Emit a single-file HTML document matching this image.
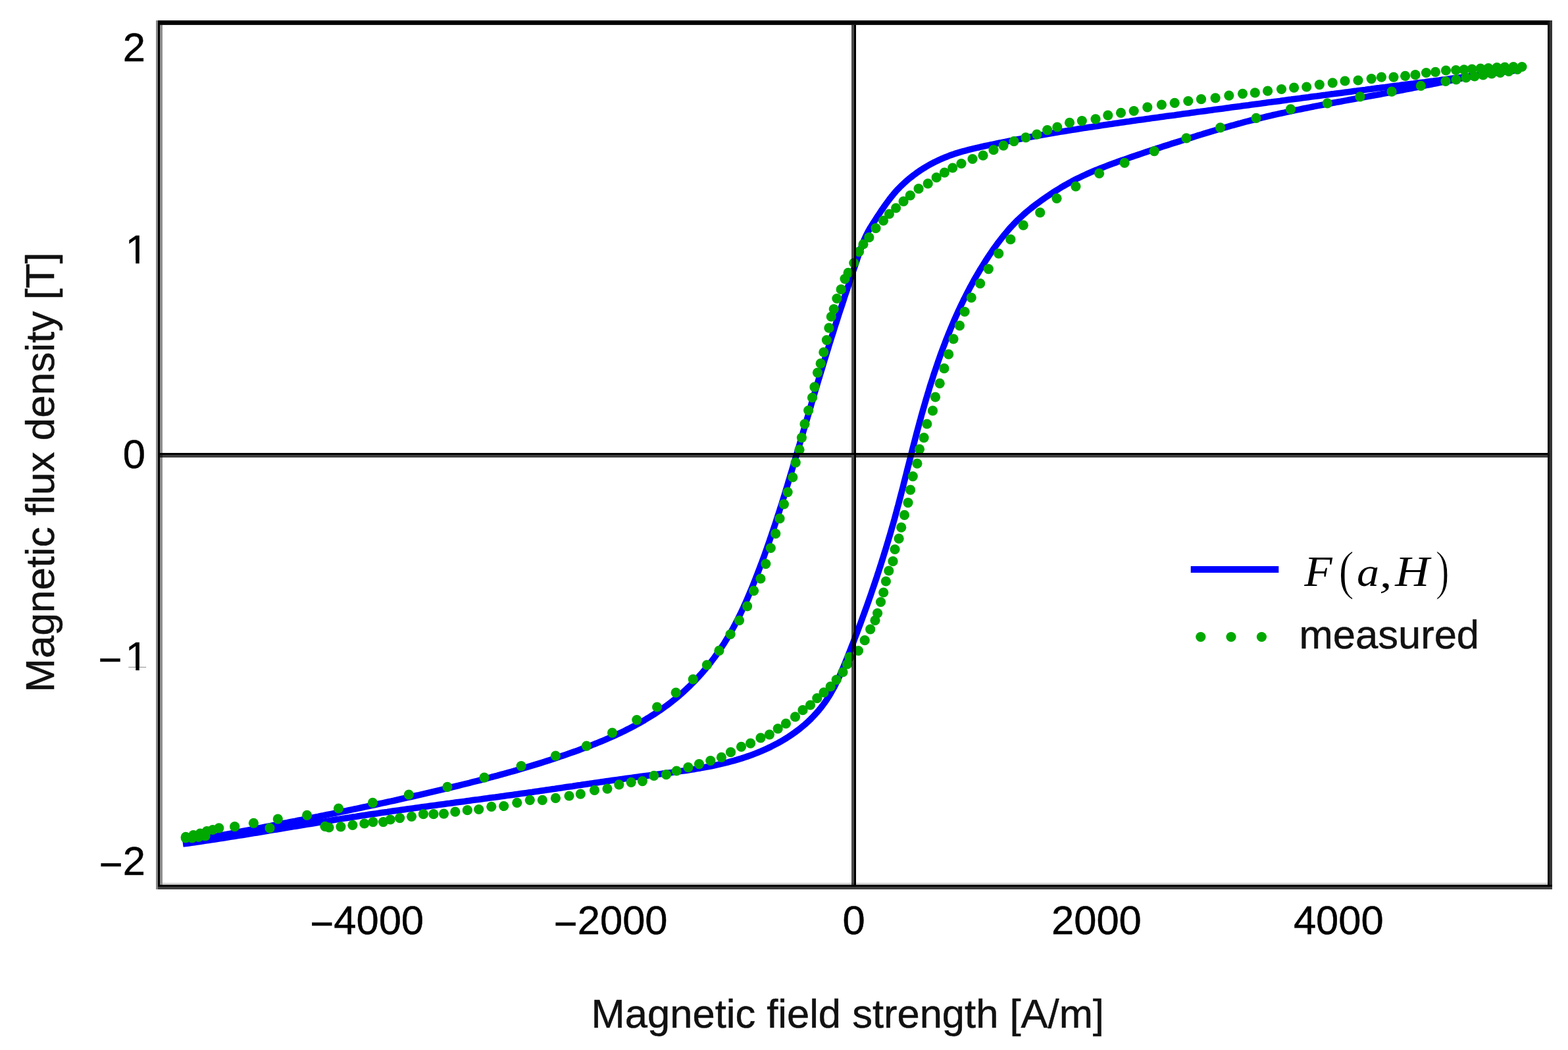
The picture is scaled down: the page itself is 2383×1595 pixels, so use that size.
<!DOCTYPE html><html><head><meta charset="utf-8"><title>Hysteresis</title><style>html,body{margin:0;padding:0;background:#fff;}svg{display:block;}</style></head><body>
<svg xmlns="http://www.w3.org/2000/svg" width="2383" height="1595" viewBox="0 0 2383 1595">
<rect x="0" y="0" width="2383" height="1595" fill="#ffffff"/>
<g fill="none" stroke="#0000ff" stroke-width="9.6" stroke-linejoin="round" stroke-linecap="butt">
<path d="M2308.1,106.3 L2303.8,106.8 L2299.5,107.4 L2295.2,108.0 L2290.8,108.5 L2286.5,109.1 L2282.2,109.6 L2277.8,110.2 L2273.5,110.7 L2269.2,111.3 L2264.9,111.8 L2260.5,112.4 L2256.2,113.0 L2251.9,113.5 L2247.6,114.1 L2243.2,114.6 L2238.9,115.2 L2234.6,115.7 L2230.3,116.3 L2225.9,116.9 L2221.6,117.4 L2217.3,118.0 L2213.0,118.5 L2208.6,119.1 L2204.3,119.6 L2200.0,120.2 L2195.7,120.8 L2191.3,121.3 L2187.0,121.9 L2182.7,122.4 L2178.4,123.0 L2174.0,123.5 L2169.7,124.1 L2165.4,124.7 L2161.1,125.2 L2156.7,125.8 L2152.4,126.3 L2148.1,126.9 L2143.8,127.4 L2139.4,128.0 L2135.1,128.6 L2130.8,129.1 L2126.5,129.7 L2122.2,130.2 L2117.8,130.8 L2113.5,131.3 L2109.2,131.9 L2104.9,132.5 L2100.5,133.0 L2096.2,133.6 L2091.9,134.1 L2087.6,134.7 L2083.3,135.3 L2078.9,135.8 L2074.6,136.4 L2070.3,136.9 L2066.0,137.5 L2061.7,138.1 L2057.3,138.6 L2053.0,139.2 L2048.7,139.8 L2044.4,140.3 L2040.0,140.9 L2035.7,141.4 L2031.4,142.0 L2027.1,142.6 L2022.8,143.1 L2018.4,143.7 L2014.1,144.3 L2009.8,144.8 L2005.5,145.4 L2001.2,146.0 L1996.8,146.5 L1992.5,147.1 L1988.2,147.7 L1983.9,148.2 L1979.6,148.8 L1975.2,149.4 L1970.9,149.9 L1966.6,150.5 L1962.3,151.1 L1957.9,151.6 L1953.6,152.2 L1949.3,152.8 L1945.0,153.4 L1940.7,153.9 L1936.3,154.5 L1932.0,155.1 L1927.7,155.6 L1923.4,156.2 L1919.1,156.8 L1914.7,157.4 L1910.4,157.9 L1906.1,158.5 L1901.8,159.1 L1897.5,159.7 L1893.1,160.2 L1888.8,160.8 L1884.5,161.4 L1880.2,162.0 L1875.8,162.6 L1871.5,163.1 L1867.2,163.7 L1862.9,164.3 L1858.6,164.9 L1854.2,165.5 L1849.9,166.0 L1845.6,166.6 L1841.3,167.2 L1837.0,167.8 L1832.6,168.4 L1828.3,169.0 L1824.0,169.6 L1819.7,170.1 L1815.3,170.7 L1811.0,171.3 L1806.7,171.9 L1802.4,172.5 L1798.0,173.1 L1793.7,173.7 L1789.4,174.3 L1785.1,174.9 L1780.8,175.4 L1776.4,176.0 L1772.1,176.6 L1767.8,177.2 L1763.5,177.8 L1759.1,178.4 L1754.8,179.0 L1750.5,179.6 L1746.2,180.2 L1741.8,180.8 L1737.5,181.4 L1733.2,182.0 L1728.9,182.6 L1724.5,183.2 L1720.2,183.8 L1715.9,184.5 L1711.6,185.1 L1707.3,185.7 L1702.9,186.3 L1698.6,186.9 L1694.3,187.5 L1690.0,188.2 L1685.7,188.8 L1681.3,189.4 L1677.0,190.1 L1672.7,190.7 L1668.4,191.4 L1664.1,192.0 L1659.8,192.7 L1655.4,193.3 L1651.1,194.0 L1646.8,194.6 L1642.5,195.3 L1638.2,196.0 L1633.9,196.7 L1629.6,197.3 L1625.3,198.0 L1621.0,198.7 L1616.7,199.4 L1612.4,200.1 L1608.1,200.8 L1603.8,201.6 L1599.5,202.3 L1595.2,203.0 L1590.9,203.7 L1586.6,204.5 L1582.3,205.2 L1578.0,206.0 L1573.7,206.7 L1569.4,207.5 L1565.2,208.3 L1560.9,209.1 L1556.6,209.9 L1552.3,210.7 L1548.1,211.5 L1543.8,212.3 L1539.5,213.1 L1535.2,213.9 L1531.0,214.8 L1526.7,215.6 L1522.5,216.5 L1518.2,217.3 L1513.9,218.2 L1509.7,219.1 L1505.4,220.0 L1501.2,220.9 L1496.9,221.8 L1492.7,222.7 L1488.5,223.7 L1484.2,224.6 L1480.0,225.6 L1475.8,226.6 L1471.6,227.7 L1467.4,228.8 L1463.2,229.9 L1459.0,231.1 L1454.9,232.4 L1450.7,233.7 L1446.6,235.1 L1442.5,236.6 L1438.5,238.2 L1434.4,239.8 L1430.4,241.5 L1426.4,243.4 L1422.5,245.3 L1418.5,247.2 L1414.6,249.3 L1410.8,251.4 L1407.0,253.6 L1403.3,255.9 L1399.5,258.3 L1395.9,260.8 L1392.3,263.3 L1388.8,265.9 L1385.3,268.6 L1381.9,271.3 L1378.5,274.1 L1375.3,277.0 L1372.1,280.0 L1368.9,283.0 L1365.9,286.1 L1362.9,289.2 L1360.0,292.5 L1357.2,295.8 L1354.5,299.1 L1351.9,302.5 L1349.3,306.0 L1346.7,309.5 L1344.2,313.0 L1341.8,316.6 L1339.3,320.1 L1336.9,323.8 L1334.5,327.4 L1332.1,331.0 L1329.8,334.7 L1327.4,338.3 L1325.1,342.0 L1322.8,345.7 L1320.6,349.5 L1318.5,353.3 L1316.6,357.1 L1314.8,361.0 L1313.0,365.0 L1311.4,369.0 L1309.8,373.1 L1308.4,377.2 L1306.9,381.3 L1305.5,385.4 L1304.1,389.5 L1302.7,393.6 L1301.4,397.8 L1300.0,401.9 L1298.6,406.1 L1297.2,410.2 L1295.8,414.3 L1294.5,418.5 L1293.1,422.6 L1291.7,426.7 L1290.3,430.9 L1288.9,435.0 L1287.6,439.2 L1286.2,443.3 L1284.8,447.4 L1283.4,451.6 L1282.1,455.7 L1280.7,459.9 L1279.4,464.0 L1278.0,468.1 L1276.6,472.3 L1275.3,476.4 L1273.9,480.6 L1272.6,484.7 L1271.3,488.9 L1269.9,493.0 L1268.6,497.2 L1267.3,501.3 L1266.0,505.5 L1264.6,509.7 L1263.3,513.8 L1262.0,518.0 L1260.7,522.1 L1259.4,526.3 L1258.2,530.5 L1256.9,534.6 L1255.6,538.8 L1254.3,543.0 L1253.0,547.1 L1251.8,551.3 L1250.5,555.5 L1249.3,559.6 L1248.0,563.8 L1246.7,568.0 L1245.5,572.2 L1244.2,576.3 L1243.0,580.5 L1241.7,584.7 L1240.5,588.9 L1239.3,593.0 L1238.0,597.2 L1236.8,601.4 L1235.6,605.6 L1234.3,609.7 L1233.1,613.9 L1231.9,618.1 L1230.6,622.3 L1229.4,626.5 L1228.2,630.7 L1227.0,634.8 L1225.7,639.0 L1224.5,643.2 L1223.3,647.4 L1222.0,651.6 L1220.8,655.7 L1219.6,659.9 L1218.4,664.1 L1217.1,668.3 L1215.9,672.5 L1214.7,676.7 L1213.5,680.8 L1212.2,685.0 L1211.0,689.2 L1209.8,693.4 L1208.5,697.6 L1207.3,701.7 L1206.0,705.9 L1204.8,710.1 L1203.5,714.3 L1202.3,718.4 L1201.0,722.6 L1199.8,726.8 L1198.5,731.0 L1197.3,735.1 L1196.0,739.3 L1194.7,743.5 L1193.4,747.7 L1192.2,751.8 L1190.9,756.0 L1189.6,760.1 L1188.3,764.3 L1187.0,768.5 L1185.6,772.6 L1184.3,776.8 L1183.0,780.9 L1181.6,785.1 L1180.3,789.2 L1178.9,793.4 L1177.6,797.5 L1176.2,801.6 L1174.8,805.8 L1173.4,809.9 L1172.0,814.0 L1170.6,818.1 L1169.2,822.3 L1167.8,826.4 L1166.3,830.5 L1164.9,834.6 L1163.4,838.7 L1162.0,842.8 L1160.5,846.9 L1159.0,851.0 L1157.5,855.1 L1155.9,859.1 L1154.4,863.2 L1152.8,867.3 L1151.3,871.4 L1149.7,875.4 L1148.1,879.5 L1146.5,883.5 L1144.9,887.6 L1143.3,891.6 L1141.6,895.6 L1139.9,899.7 L1138.2,903.7 L1136.5,907.7 L1134.8,911.7 L1133.0,915.7 L1131.2,919.6 L1129.4,923.6 L1127.6,927.5 L1125.7,931.5 L1123.8,935.4 L1121.9,939.3 L1119.9,943.2 L1117.9,947.0 L1115.9,950.9 L1113.8,954.7 L1111.7,958.5 L1109.5,962.3 L1107.3,966.1 L1105.1,969.8 L1102.8,973.6 L1100.5,977.3 L1098.1,980.9 L1095.7,984.6 L1093.3,988.2 L1090.8,991.8 L1088.2,995.4 L1085.7,998.9 L1083.0,1002.4 L1080.4,1005.9 L1077.7,1009.3 L1074.9,1012.7 L1072.1,1016.1 L1069.3,1019.5 L1066.4,1022.8 L1063.5,1026.0 L1060.6,1029.3 L1057.6,1032.5 L1054.6,1035.6 L1051.5,1038.7 L1048.4,1041.8 L1045.3,1044.8 L1042.1,1047.8 L1038.9,1050.8 L1035.7,1053.7 L1032.4,1056.5 L1029.1,1059.3 L1025.7,1062.1 L1022.3,1064.8 L1018.9,1067.5 L1015.5,1070.1 L1012.0,1072.7 L1008.5,1075.2 L1004.9,1077.7 L1001.4,1080.1 L997.8,1082.5 L994.2,1084.9 L990.5,1087.2 L986.8,1089.5 L983.1,1091.7 L979.4,1094.0 L975.7,1096.1 L971.9,1098.3 L968.1,1100.4 L964.3,1102.4 L960.4,1104.5 L956.6,1106.5 L952.7,1108.4 L948.8,1110.4 L944.9,1112.3 L940.9,1114.1 L937.0,1116.0 L933.0,1117.8 L929.0,1119.6 L925.0,1121.3 L921.0,1123.1 L917.0,1124.8 L912.9,1126.5 L908.9,1128.1 L904.8,1129.8 L900.7,1131.4 L896.7,1133.0 L892.6,1134.6 L888.5,1136.1 L884.4,1137.6 L880.2,1139.2 L876.1,1140.7 L872.0,1142.1 L867.9,1143.6 L863.7,1145.1 L859.6,1146.5 L855.5,1147.9 L851.3,1149.3 L847.2,1150.7 L843.0,1152.1 L838.9,1153.5 L834.7,1154.8 L830.6,1156.1 L826.4,1157.5 L822.2,1158.8 L818.1,1160.1 L813.9,1161.4 L809.7,1162.7 L805.6,1163.9 L801.4,1165.2 L797.2,1166.4 L793.0,1167.6 L788.8,1168.9 L784.7,1170.1 L780.5,1171.3 L776.3,1172.5 L772.1,1173.7 L767.9,1174.8 L763.7,1176.0 L759.5,1177.1 L755.3,1178.3 L751.1,1179.4 L746.9,1180.5 L742.7,1181.7 L738.5,1182.8 L734.3,1183.9 L730.1,1185.0 L725.8,1186.1 L721.6,1187.1 L717.4,1188.2 L713.2,1189.3 L709.0,1190.3 L704.7,1191.4 L700.5,1192.4 L696.3,1193.5 L692.1,1194.5 L687.8,1195.5 L683.6,1196.6 L679.4,1197.6 L675.1,1198.6 L670.9,1199.6 L666.7,1200.6 L662.4,1201.6 L658.2,1202.6 L653.9,1203.6 L649.7,1204.6 L645.5,1205.6 L641.2,1206.6 L637.0,1207.6 L632.7,1208.5 L628.5,1209.5 L624.2,1210.5 L620.0,1211.4 L615.7,1212.4 L611.5,1213.3 L607.2,1214.3 L603.0,1215.2 L598.7,1216.2 L594.4,1217.1 L590.2,1218.0 L585.9,1219.0 L581.7,1219.9 L577.4,1220.8 L573.1,1221.8 L568.9,1222.7 L564.6,1223.6 L560.3,1224.5 L556.1,1225.4 L551.8,1226.3 L547.5,1227.2 L543.3,1228.1 L539.0,1229.0 L534.7,1229.9 L530.5,1230.8 L526.2,1231.7 L521.9,1232.5 L517.7,1233.4 L513.4,1234.3 L509.1,1235.2 L504.8,1236.1 L500.6,1236.9 L496.3,1237.8 L492.0,1238.7 L487.7,1239.5 L483.5,1240.4 L479.2,1241.2 L474.9,1242.1 L470.6,1242.9 L466.3,1243.8 L462.1,1244.6 L457.8,1245.5 L453.5,1246.3 L449.2,1247.2 L444.9,1248.0 L440.7,1248.8 L436.4,1249.7 L432.1,1250.5 L427.8,1251.3 L423.5,1252.2 L419.3,1253.0 L415.0,1253.8 L410.7,1254.7 L406.4,1255.5 L402.1,1256.3 L397.8,1257.1 L393.6,1257.9 L389.3,1258.8 L385.0,1259.6 L380.7,1260.4 L376.4,1261.2 L372.1,1262.0 L367.9,1262.8 L363.6,1263.7 L359.3,1264.5 L355.0,1265.3 L350.7,1266.1 L346.5,1266.9 L342.2,1267.7 L337.9,1268.5 L333.6,1269.3 L329.3,1270.1 L325.1,1270.9 L320.8,1271.7 L316.5,1272.5 L312.2,1273.3 L307.9,1274.1 L303.7,1274.9 L299.4,1275.7 L295.1,1276.5 L290.8,1277.3 L286.6,1278.1 L282.3,1278.9 L278.0,1279.7"/>
<path d="M278.0,1282.1 L282.3,1281.5 L286.7,1280.9 L291.0,1280.3 L295.3,1279.7 L299.6,1279.0 L304.0,1278.4 L308.3,1277.8 L312.6,1277.1 L316.9,1276.5 L321.2,1275.8 L325.5,1275.2 L329.9,1274.5 L334.2,1273.8 L338.5,1273.2 L342.8,1272.5 L347.1,1271.8 L351.4,1271.1 L355.7,1270.4 L360.0,1269.8 L364.4,1269.1 L368.7,1268.4 L373.0,1267.7 L377.3,1267.0 L381.6,1266.3 L385.9,1265.6 L390.2,1264.9 L394.5,1264.2 L398.8,1263.5 L403.1,1262.8 L407.4,1262.0 L411.7,1261.3 L416.0,1260.6 L420.3,1259.9 L424.6,1259.2 L428.9,1258.5 L433.2,1257.8 L437.5,1257.1 L441.9,1256.3 L446.2,1255.6 L450.5,1254.9 L454.8,1254.2 L459.1,1253.5 L463.4,1252.8 L467.7,1252.1 L472.0,1251.4 L476.3,1250.7 L480.6,1250.0 L484.9,1249.3 L489.2,1248.6 L493.5,1247.9 L497.8,1247.2 L502.1,1246.5 L506.4,1245.8 L510.7,1245.1 L515.1,1244.4 L519.4,1243.7 L523.7,1243.1 L528.0,1242.4 L532.3,1241.7 L536.6,1241.0 L540.9,1240.4 L545.2,1239.7 L549.5,1239.1 L553.9,1238.4 L558.2,1237.8 L562.5,1237.1 L566.8,1236.5 L571.1,1235.9 L575.5,1235.2 L579.8,1234.6 L584.1,1234.0 L588.4,1233.4 L592.7,1232.7 L597.1,1232.1 L601.4,1231.5 L605.7,1230.9 L610.0,1230.3 L614.4,1229.7 L618.7,1229.1 L623.0,1228.5 L627.3,1227.9 L631.7,1227.3 L636.0,1226.7 L640.3,1226.1 L644.6,1225.5 L649.0,1224.9 L653.3,1224.3 L657.6,1223.8 L662.0,1223.2 L666.3,1222.6 L670.6,1222.0 L674.9,1221.4 L679.3,1220.8 L683.6,1220.3 L687.9,1219.7 L692.2,1219.1 L696.6,1218.5 L700.9,1217.9 L705.2,1217.4 L709.6,1216.8 L713.9,1216.2 L718.2,1215.6 L722.5,1215.0 L726.9,1214.5 L731.2,1213.9 L735.5,1213.3 L739.8,1212.7 L744.2,1212.1 L748.5,1211.5 L752.8,1211.0 L757.1,1210.4 L761.5,1209.8 L765.8,1209.2 L770.1,1208.6 L774.4,1208.0 L778.8,1207.4 L783.1,1206.8 L787.4,1206.2 L791.7,1205.6 L796.0,1205.0 L800.4,1204.4 L804.7,1203.8 L809.0,1203.2 L813.3,1202.5 L817.6,1201.9 L821.9,1201.3 L826.2,1200.7 L830.6,1200.0 L834.9,1199.4 L839.2,1198.8 L843.5,1198.2 L847.8,1197.5 L852.1,1196.9 L856.4,1196.3 L860.8,1195.6 L865.1,1195.0 L869.4,1194.4 L873.7,1193.7 L878.0,1193.1 L882.3,1192.5 L886.6,1191.8 L890.9,1191.2 L895.3,1190.6 L899.6,1189.9 L903.9,1189.3 L908.2,1188.7 L912.5,1188.1 L916.8,1187.4 L921.2,1186.8 L925.5,1186.2 L929.8,1185.6 L934.1,1185.0 L938.4,1184.4 L942.8,1183.8 L947.1,1183.2 L951.4,1182.6 L955.8,1182.0 L960.1,1181.4 L964.4,1180.8 L968.8,1180.2 L973.1,1179.6 L977.4,1179.1 L981.8,1178.5 L986.1,1177.9 L990.5,1177.4 L994.8,1176.8 L999.1,1176.3 L1003.5,1175.7 L1007.8,1175.1 L1012.2,1174.6 L1016.5,1174.0 L1020.9,1173.4 L1025.2,1172.8 L1029.5,1172.2 L1033.9,1171.6 L1038.2,1171.0 L1042.5,1170.4 L1046.8,1169.7 L1051.2,1169.0 L1055.5,1168.4 L1059.8,1167.6 L1064.1,1166.9 L1068.4,1166.1 L1072.6,1165.3 L1076.9,1164.5 L1081.2,1163.7 L1085.5,1162.8 L1089.7,1161.9 L1093.9,1160.9 L1098.2,1159.9 L1102.4,1158.9 L1106.6,1157.8 L1110.8,1156.7 L1115.0,1155.6 L1119.2,1154.4 L1123.3,1153.1 L1127.5,1151.9 L1131.6,1150.5 L1135.7,1149.1 L1139.8,1147.7 L1143.9,1146.2 L1148.0,1144.6 L1152.1,1143.0 L1156.1,1141.4 L1160.1,1139.6 L1164.1,1137.8 L1168.1,1136.0 L1172.1,1134.1 L1176.0,1132.1 L1179.9,1130.1 L1183.7,1128.0 L1187.5,1125.8 L1191.3,1123.6 L1195.0,1121.3 L1198.7,1119.0 L1202.4,1116.5 L1206.0,1114.0 L1209.5,1111.5 L1213.0,1108.9 L1216.5,1106.2 L1219.8,1103.4 L1223.2,1100.6 L1226.4,1097.7 L1229.6,1094.7 L1232.7,1091.7 L1235.8,1088.5 L1238.7,1085.4 L1241.6,1082.1 L1244.5,1078.8 L1247.2,1075.4 L1249.9,1072.0 L1252.5,1068.5 L1255.0,1064.9 L1257.4,1061.3 L1259.8,1057.7 L1262.0,1054.0 L1264.2,1050.2 L1266.3,1046.4 L1268.4,1042.6 L1270.3,1038.7 L1272.2,1034.9 L1274.1,1030.9 L1275.9,1027.0 L1277.7,1023.0 L1279.4,1019.0 L1281.1,1015.0 L1282.8,1011.0 L1284.4,1006.9 L1286.1,1002.9 L1287.7,998.8 L1289.3,994.8 L1290.9,990.7 L1292.5,986.7 L1294.1,982.6 L1295.7,978.6 L1297.3,974.5 L1298.8,970.4 L1300.4,966.3 L1302.0,962.3 L1303.5,958.2 L1305.0,954.1 L1306.6,950.0 L1308.1,945.9 L1309.6,941.8 L1311.1,937.7 L1312.6,933.6 L1314.1,929.5 L1315.6,925.4 L1317.1,921.3 L1318.5,917.2 L1320.0,913.1 L1321.4,909.0 L1322.9,904.9 L1324.3,900.8 L1325.7,896.6 L1327.1,892.5 L1328.5,888.4 L1329.9,884.2 L1331.3,880.1 L1332.7,875.9 L1334.0,871.8 L1335.4,867.7 L1336.7,863.5 L1338.1,859.4 L1339.4,855.2 L1340.7,851.0 L1342.0,846.9 L1343.3,842.7 L1344.6,838.5 L1345.9,834.4 L1347.2,830.2 L1348.4,826.0 L1349.7,821.8 L1350.9,817.6 L1352.2,813.5 L1353.4,809.3 L1354.6,805.1 L1355.8,800.9 L1357.0,796.7 L1358.2,792.5 L1359.4,788.3 L1360.5,784.1 L1361.7,779.9 L1362.8,775.6 L1363.9,771.4 L1365.1,767.2 L1366.2,763.0 L1367.3,758.8 L1368.4,754.5 L1369.5,750.3 L1370.6,746.1 L1371.7,741.9 L1372.8,737.6 L1373.8,733.4 L1374.9,729.2 L1376.0,724.9 L1377.1,720.7 L1378.1,716.5 L1379.2,712.2 L1380.3,708.0 L1381.4,703.8 L1382.4,699.5 L1383.5,695.3 L1384.6,691.1 L1385.7,686.8 L1386.7,682.6 L1387.8,678.4 L1388.9,674.2 L1390.0,669.9 L1391.1,665.7 L1392.2,661.5 L1393.3,657.3 L1394.4,653.1 L1395.6,648.8 L1396.7,644.6 L1397.8,640.4 L1399.0,636.2 L1400.1,632.0 L1401.3,627.8 L1402.5,623.6 L1403.7,619.4 L1404.9,615.2 L1406.1,611.1 L1407.3,606.9 L1408.6,602.7 L1409.8,598.5 L1411.1,594.4 L1412.3,590.2 L1413.6,586.0 L1414.9,581.9 L1416.3,577.7 L1417.6,573.6 L1418.9,569.4 L1420.3,565.3 L1421.7,561.2 L1423.1,557.1 L1424.5,552.9 L1425.9,548.8 L1427.4,544.7 L1428.8,540.6 L1430.3,536.5 L1431.8,532.4 L1433.3,528.3 L1434.9,524.3 L1436.4,520.2 L1438.0,516.1 L1439.6,512.1 L1441.2,508.0 L1442.9,504.0 L1444.5,499.9 L1446.2,495.9 L1447.9,491.9 L1449.6,487.8 L1451.4,483.8 L1453.2,479.8 L1455.0,475.8 L1456.8,471.8 L1458.6,467.9 L1460.5,463.9 L1462.4,460.0 L1464.3,456.0 L1466.3,452.1 L1468.3,448.2 L1470.3,444.3 L1472.3,440.4 L1474.3,436.6 L1476.4,432.7 L1478.5,428.9 L1480.6,425.0 L1482.8,421.2 L1485.0,417.4 L1487.2,413.7 L1489.4,409.9 L1491.7,406.2 L1494.0,402.5 L1496.3,398.8 L1498.6,395.1 L1501.0,391.5 L1503.4,387.8 L1505.9,384.2 L1508.3,380.6 L1510.8,377.1 L1513.4,373.5 L1515.9,370.0 L1518.5,366.6 L1521.2,363.1 L1523.9,359.7 L1526.6,356.3 L1529.4,353.0 L1532.2,349.7 L1535.0,346.4 L1538.0,343.2 L1540.9,340.1 L1544.0,337.0 L1547.0,333.9 L1550.2,330.9 L1553.4,328.0 L1556.6,325.0 L1559.9,322.2 L1563.3,319.4 L1566.6,316.6 L1570.1,313.9 L1573.5,311.2 L1577.1,308.6 L1580.6,306.0 L1584.2,303.4 L1587.8,300.9 L1591.4,298.4 L1595.1,295.9 L1598.7,293.5 L1602.4,291.1 L1606.1,288.8 L1609.9,286.5 L1613.6,284.2 L1617.4,282.0 L1621.2,279.8 L1625.0,277.7 L1628.8,275.6 L1632.7,273.6 L1636.6,271.6 L1640.5,269.7 L1644.4,267.8 L1648.3,266.0 L1652.3,264.2 L1656.2,262.4 L1660.2,260.7 L1664.2,259.0 L1668.2,257.4 L1672.3,255.8 L1676.3,254.2 L1680.4,252.6 L1684.4,251.1 L1688.5,249.5 L1692.6,248.0 L1696.7,246.6 L1700.7,245.1 L1704.9,243.6 L1709.0,242.2 L1713.1,240.8 L1717.2,239.3 L1721.3,237.9 L1725.4,236.5 L1729.6,235.1 L1733.7,233.7 L1737.9,232.3 L1742.0,230.9 L1746.1,229.5 L1750.3,228.2 L1754.5,226.8 L1758.6,225.4 L1762.8,224.1 L1766.9,222.7 L1771.1,221.4 L1775.3,220.1 L1779.4,218.7 L1783.6,217.4 L1787.8,216.1 L1791.9,214.8 L1796.1,213.5 L1800.3,212.2 L1804.5,210.9 L1808.6,209.6 L1812.8,208.3 L1817.0,207.0 L1821.2,205.7 L1825.3,204.5 L1829.5,203.2 L1833.7,201.9 L1837.9,200.7 L1842.0,199.4 L1846.2,198.2 L1850.4,197.0 L1854.6,195.7 L1858.8,194.5 L1863.0,193.3 L1867.2,192.1 L1871.3,190.9 L1875.5,189.8 L1879.7,188.6 L1883.9,187.5 L1888.1,186.3 L1892.4,185.2 L1896.6,184.1 L1900.8,183.0 L1905.0,182.0 L1909.2,180.9 L1913.5,179.9 L1917.7,178.8 L1921.9,177.8 L1926.2,176.8 L1930.4,175.8 L1934.7,174.8 L1938.9,173.9 L1943.2,172.9 L1947.4,172.0 L1951.7,171.1 L1956.0,170.1 L1960.2,169.2 L1964.5,168.3 L1968.8,167.4 L1973.0,166.6 L1977.3,165.7 L1981.6,164.8 L1985.9,164.0 L1990.2,163.1 L1994.5,162.3 L1998.7,161.4 L2003.0,160.6 L2007.3,159.8 L2011.6,159.0 L2015.9,158.2 L2020.2,157.3 L2024.5,156.5 L2028.8,155.7 L2033.1,154.9 L2037.4,154.2 L2041.7,153.4 L2046.0,152.6 L2050.3,151.8 L2054.6,151.0 L2058.9,150.2 L2063.2,149.4 L2067.5,148.7 L2071.8,147.9 L2076.1,147.1 L2080.4,146.3 L2084.7,145.5 L2089.0,144.7 L2093.3,144.0 L2097.6,143.2 L2101.9,142.4 L2106.2,141.6 L2110.5,140.8 L2114.8,140.0 L2119.1,139.2 L2123.3,138.4 L2127.6,137.5 L2131.9,136.7 L2136.2,135.9 L2140.5,135.1 L2144.8,134.2 L2149.0,133.4 L2153.3,132.5 L2157.6,131.7 L2161.9,130.8 L2166.1,129.9 L2170.4,129.1 L2174.7,128.2 L2179.0,127.4 L2183.2,126.5 L2187.5,125.6 L2191.8,124.8 L2196.1,123.9 L2200.3,123.1 L2204.6,122.2 L2208.9,121.4 L2213.2,120.6 L2217.4,119.7 L2221.7,118.9 L2226.0,118.1 L2230.3,117.3 L2234.6,116.6 L2238.9,115.8 L2243.2,115.0 L2247.5,114.3 L2251.8,113.5 L2256.1,112.8 L2260.4,112.1 L2264.7,111.5 L2269.0,110.8 L2273.3,110.1 L2277.6,109.5 L2282.0,108.9 L2286.3,108.3 L2290.6,107.8 L2295.0,107.2 L2299.3,106.7 L2303.7,106.2 L2308.1,105.7"/>
</g>
<g fill="#00a800">
<circle cx="2313.0" cy="101.5" r="7.6"/>
<circle cx="2300.0" cy="101.5" r="7.6"/>
<circle cx="2287.0" cy="102.0" r="7.6"/>
<circle cx="2275.0" cy="102.5" r="7.6"/>
<circle cx="2262.0" cy="103.5" r="7.6"/>
<circle cx="2250.0" cy="104.0" r="7.6"/>
<circle cx="2237.0" cy="105.0" r="7.6"/>
<circle cx="2225.0" cy="105.8" r="7.6"/>
<circle cx="2212.7" cy="106.5" r="7.6"/>
<circle cx="2197.5" cy="107.0" r="7.6"/>
<circle cx="2181.5" cy="109.3" r="7.6"/>
<circle cx="2167.5" cy="110.5" r="7.6"/>
<circle cx="2151.0" cy="113.7" r="7.6"/>
<circle cx="2135.6" cy="115.3" r="7.6"/>
<circle cx="2118.0" cy="117.1" r="7.6"/>
<circle cx="2099.5" cy="117.1" r="7.6"/>
<circle cx="2084.2" cy="119.6" r="7.6"/>
<circle cx="2064.0" cy="122.0" r="7.6"/>
<circle cx="2044.0" cy="123.0" r="7.6"/>
<circle cx="2025.2" cy="125.8" r="7.6"/>
<circle cx="2005.3" cy="128.6" r="7.6"/>
<circle cx="1985.7" cy="132.0" r="7.6"/>
<circle cx="1966.6" cy="133.2" r="7.6"/>
<circle cx="1947.5" cy="135.5" r="7.6"/>
<circle cx="1926.6" cy="138.2" r="7.6"/>
<circle cx="1907.3" cy="140.9" r="7.6"/>
<circle cx="1888.5" cy="142.3" r="7.6"/>
<circle cx="1867.8" cy="145.1" r="7.6"/>
<circle cx="1847.1" cy="148.8" r="7.6"/>
<circle cx="1825.5" cy="150.7" r="7.6"/>
<circle cx="1805.8" cy="153.5" r="7.6"/>
<circle cx="1785.2" cy="156.3" r="7.6"/>
<circle cx="1765.4" cy="159.2" r="7.6"/>
<circle cx="1743.8" cy="162.9" r="7.6"/>
<circle cx="1723.2" cy="168.5" r="7.6"/>
<circle cx="1703.5" cy="171.4" r="7.6"/>
<circle cx="1683.8" cy="175.1" r="7.6"/>
<circle cx="1665.0" cy="180.8" r="7.6"/>
<circle cx="1644.3" cy="183.6" r="7.6"/>
<circle cx="1625.5" cy="186.4" r="7.6"/>
<circle cx="1606.8" cy="193.0" r="7.6"/>
<circle cx="1591.7" cy="197.7" r="7.6"/>
<circle cx="1575.8" cy="204.2" r="7.6"/>
<circle cx="1558.9" cy="208.9" r="7.6"/>
<circle cx="1541.0" cy="214.6" r="7.6"/>
<circle cx="1525.0" cy="221.1" r="7.6"/>
<circle cx="1510.0" cy="227.7" r="7.6"/>
<circle cx="1494.0" cy="236.2" r="7.6"/>
<circle cx="1478.0" cy="241.5" r="7.6"/>
<circle cx="1461.0" cy="248.5" r="7.6"/>
<circle cx="1447.7" cy="255.0" r="7.6"/>
<circle cx="1435.4" cy="262.1" r="7.6"/>
<circle cx="1423.2" cy="269.7" r="7.6"/>
<circle cx="1410.2" cy="278.9" r="7.6"/>
<circle cx="1396.1" cy="286.7" r="7.6"/>
<circle cx="1383.3" cy="296.9" r="7.6"/>
<circle cx="1373.1" cy="305.9" r="7.6"/>
<circle cx="1361.6" cy="316.0" r="7.6"/>
<circle cx="1351.4" cy="325.0" r="7.6"/>
<circle cx="1342.5" cy="335.2" r="7.6"/>
<circle cx="1331.0" cy="346.7" r="7.6"/>
<circle cx="1320.8" cy="360.7" r="7.6"/>
<circle cx="1312.0" cy="371.0" r="7.6"/>
<circle cx="1305.5" cy="382.4" r="7.6"/>
<circle cx="1297.8" cy="399.5" r="7.6"/>
<circle cx="1289.1" cy="414.4" r="7.6"/>
<circle cx="1284.0" cy="423.6" r="7.6"/>
<circle cx="1278.2" cy="439.7" r="7.6"/>
<circle cx="1271.9" cy="453.5" r="7.6"/>
<circle cx="1267.3" cy="469.5" r="7.6"/>
<circle cx="1263.3" cy="481.0" r="7.6"/>
<circle cx="1259.9" cy="498.2" r="7.6"/>
<circle cx="1256.4" cy="516.6" r="7.6"/>
<circle cx="1251.8" cy="535.0" r="7.6"/>
<circle cx="1247.2" cy="552.2" r="7.6"/>
<circle cx="1242.5" cy="566.1" r="7.6"/>
<circle cx="1237.9" cy="587.9" r="7.6"/>
<circle cx="1234.5" cy="604.0" r="7.6"/>
<circle cx="1228.7" cy="623.5" r="7.6"/>
<circle cx="1223.0" cy="644.1" r="7.6"/>
<circle cx="1218.4" cy="664.8" r="7.6"/>
<circle cx="1215.0" cy="683.2" r="7.6"/>
<circle cx="1209.2" cy="702.7" r="7.6"/>
<circle cx="1204.8" cy="725.0" r="7.6"/>
<circle cx="1197.1" cy="747.6" r="7.6"/>
<circle cx="1191.4" cy="765.9" r="7.6"/>
<circle cx="1185.0" cy="787.7" r="7.6"/>
<circle cx="1178.7" cy="810.7" r="7.6"/>
<circle cx="1171.3" cy="832.5" r="7.6"/>
<circle cx="1163.8" cy="856.6" r="7.6"/>
<circle cx="1155.9" cy="879.0" r="7.6"/>
<circle cx="1145.6" cy="897.3" r="7.6"/>
<circle cx="1135.6" cy="920.8" r="7.6"/>
<circle cx="1123.5" cy="942.5" r="7.6"/>
<circle cx="1110.1" cy="963.5" r="7.6"/>
<circle cx="1092.9" cy="988.4" r="7.6"/>
<circle cx="1074.4" cy="1010.1" r="7.6"/>
<circle cx="1053.3" cy="1031.8" r="7.6"/>
<circle cx="1027.2" cy="1052.2" r="7.6"/>
<circle cx="998.6" cy="1074.0" r="7.6"/>
<circle cx="967.8" cy="1093.6" r="7.6"/>
<circle cx="930.5" cy="1113.1" r="7.6"/>
<circle cx="891.4" cy="1133.2" r="7.6"/>
<circle cx="844.4" cy="1148.2" r="7.6"/>
<circle cx="792.1" cy="1163.6" r="7.6"/>
<circle cx="736.0" cy="1181.1" r="7.6"/>
<circle cx="679.9" cy="1195.4" r="7.6"/>
<circle cx="621.3" cy="1207.2" r="7.6"/>
<circle cx="566.4" cy="1219.4" r="7.6"/>
<circle cx="514.5" cy="1228.0" r="7.6"/>
<circle cx="466.6" cy="1238.4" r="7.6"/>
<circle cx="422.3" cy="1244.1" r="7.6"/>
<circle cx="385.4" cy="1250.3" r="7.6"/>
<circle cx="356.7" cy="1255.7" r="7.6"/>
<circle cx="332.8" cy="1257.8" r="7.6"/>
<circle cx="323.3" cy="1260.5" r="7.6"/>
<circle cx="314.4" cy="1262.6" r="7.6"/>
<circle cx="304.2" cy="1266.0" r="7.6"/>
<circle cx="293.9" cy="1268.7" r="7.6"/>
<circle cx="282.3" cy="1271.4" r="7.6"/>
<circle cx="282.3" cy="1273.0" r="7.6"/>
<circle cx="292.0" cy="1273.0" r="7.6"/>
<circle cx="302.0" cy="1271.5" r="7.6"/>
<circle cx="312.0" cy="1270.0" r="7.6"/>
<circle cx="410.0" cy="1257.8" r="7.6"/>
<circle cx="494.0" cy="1255.3" r="7.6"/>
<circle cx="500.0" cy="1257.0" r="7.6"/>
<circle cx="517.9" cy="1255.8" r="7.6"/>
<circle cx="535.9" cy="1253.4" r="7.6"/>
<circle cx="553.8" cy="1251.0" r="7.6"/>
<circle cx="566.9" cy="1248.6" r="7.6"/>
<circle cx="582.5" cy="1248.6" r="7.6"/>
<circle cx="593.2" cy="1245.0" r="7.6"/>
<circle cx="607.6" cy="1242.6" r="7.6"/>
<circle cx="625.5" cy="1240.3" r="7.6"/>
<circle cx="643.4" cy="1236.7" r="7.6"/>
<circle cx="658.9" cy="1236.7" r="7.6"/>
<circle cx="674.5" cy="1236.1" r="7.6"/>
<circle cx="691.8" cy="1233.1" r="7.6"/>
<circle cx="710.3" cy="1230.7" r="7.6"/>
<circle cx="727.7" cy="1229.5" r="7.6"/>
<circle cx="746.8" cy="1225.3" r="7.6"/>
<circle cx="765.7" cy="1224.5" r="7.6"/>
<circle cx="785.8" cy="1219.3" r="7.6"/>
<circle cx="805.3" cy="1215.3" r="7.6"/>
<circle cx="824.3" cy="1215.3" r="7.6"/>
<circle cx="844.4" cy="1212.4" r="7.6"/>
<circle cx="865.0" cy="1209.0" r="7.6"/>
<circle cx="882.3" cy="1206.1" r="7.6"/>
<circle cx="903.5" cy="1200.4" r="7.6"/>
<circle cx="923.0" cy="1198.1" r="7.6"/>
<circle cx="940.8" cy="1191.8" r="7.6"/>
<circle cx="959.2" cy="1188.3" r="7.6"/>
<circle cx="976.4" cy="1186.6" r="7.6"/>
<circle cx="993.8" cy="1178.3" r="7.6"/>
<circle cx="1012.5" cy="1176.7" r="7.6"/>
<circle cx="1028.2" cy="1171.0" r="7.6"/>
<circle cx="1045.9" cy="1165.7" r="7.6"/>
<circle cx="1062.5" cy="1160.6" r="7.6"/>
<circle cx="1079.8" cy="1155.5" r="7.6"/>
<circle cx="1096.4" cy="1150.4" r="7.6"/>
<circle cx="1110.5" cy="1142.7" r="7.6"/>
<circle cx="1126.5" cy="1134.4" r="7.6"/>
<circle cx="1140.6" cy="1129.2" r="7.6"/>
<circle cx="1156.0" cy="1120.9" r="7.6"/>
<circle cx="1169.4" cy="1115.8" r="7.6"/>
<circle cx="1182.2" cy="1106.8" r="7.6"/>
<circle cx="1194.4" cy="1099.1" r="7.6"/>
<circle cx="1208.5" cy="1088.9" r="7.6"/>
<circle cx="1220.0" cy="1078.7" r="7.6"/>
<circle cx="1231.5" cy="1071.0" r="7.6"/>
<circle cx="1241.8" cy="1060.7" r="7.6"/>
<circle cx="1252.0" cy="1051.8" r="7.6"/>
<circle cx="1262.2" cy="1042.8" r="7.6"/>
<circle cx="1271.2" cy="1032.6" r="7.6"/>
<circle cx="1281.0" cy="1021.0" r="7.6"/>
<circle cx="1287.5" cy="1009.0" r="7.6"/>
<circle cx="1291.0" cy="998.0" r="7.6"/>
<circle cx="1304.5" cy="988.5" r="7.6"/>
<circle cx="1314.2" cy="972.7" r="7.6"/>
<circle cx="1322.7" cy="955.8" r="7.6"/>
<circle cx="1330.0" cy="942.4" r="7.6"/>
<circle cx="1333.6" cy="931.5" r="7.6"/>
<circle cx="1338.5" cy="914.5" r="7.6"/>
<circle cx="1342.7" cy="900.0" r="7.6"/>
<circle cx="1346.4" cy="883.0" r="7.6"/>
<circle cx="1350.8" cy="867.0" r="7.6"/>
<circle cx="1357.0" cy="852.7" r="7.6"/>
<circle cx="1360.0" cy="834.5" r="7.6"/>
<circle cx="1366.1" cy="818.2" r="7.6"/>
<circle cx="1369.7" cy="801.2" r="7.6"/>
<circle cx="1374.5" cy="782.4" r="7.6"/>
<circle cx="1380.0" cy="763.6" r="7.6"/>
<circle cx="1383.6" cy="744.2" r="7.6"/>
<circle cx="1387.3" cy="723.6" r="7.6"/>
<circle cx="1393.9" cy="704.2" r="7.6"/>
<circle cx="1397.5" cy="682.3" r="7.6"/>
<circle cx="1404.1" cy="664.8" r="7.6"/>
<circle cx="1408.8" cy="644.0" r="7.6"/>
<circle cx="1417.5" cy="623.9" r="7.6"/>
<circle cx="1421.5" cy="603.2" r="7.6"/>
<circle cx="1428.2" cy="582.4" r="7.6"/>
<circle cx="1434.9" cy="559.7" r="7.6"/>
<circle cx="1441.6" cy="538.2" r="7.6"/>
<circle cx="1449.0" cy="514.8" r="7.6"/>
<circle cx="1458.4" cy="494.7" r="7.6"/>
<circle cx="1466.1" cy="473.5" r="7.6"/>
<circle cx="1476.2" cy="452.1" r="7.6"/>
<circle cx="1489.6" cy="430.7" r="7.6"/>
<circle cx="1502.3" cy="408.6" r="7.6"/>
<circle cx="1517.7" cy="385.1" r="7.6"/>
<circle cx="1535.8" cy="363.7" r="7.6"/>
<circle cx="1555.2" cy="342.2" r="7.6"/>
<circle cx="1580.7" cy="322.8" r="7.6"/>
<circle cx="1606.0" cy="301.3" r="7.6"/>
<circle cx="1634.9" cy="283.1" r="7.6"/>
<circle cx="1670.6" cy="263.4" r="7.6"/>
<circle cx="1709.1" cy="247.4" r="7.6"/>
<circle cx="1754.2" cy="229.6" r="7.6"/>
<circle cx="1803.0" cy="209.9" r="7.6"/>
<circle cx="1854.6" cy="193.9" r="7.6"/>
<circle cx="1909.1" cy="179.4" r="7.6"/>
<circle cx="1961.5" cy="165.8" r="7.6"/>
<circle cx="2017.3" cy="156.8" r="7.6"/>
<circle cx="2067.0" cy="146.9" r="7.6"/>
<circle cx="2115.1" cy="139.2" r="7.6"/>
<circle cx="2159.3" cy="130.4" r="7.6"/>
<circle cx="2197.0" cy="123.5" r="7.6"/>
<circle cx="2213.0" cy="121.0" r="7.6"/>
<circle cx="2228.0" cy="118.0" r="7.6"/>
<circle cx="2241.0" cy="116.0" r="7.6"/>
<circle cx="2254.0" cy="114.0" r="7.6"/>
<circle cx="2267.0" cy="112.0" r="7.6"/>
<circle cx="2280.0" cy="110.5" r="7.6"/>
<circle cx="2293.0" cy="108.5" r="7.6"/>
<circle cx="2306.0" cy="105.5" r="7.6"/>
</g>
<g shape-rendering="crispEdges">
<rect x="240" y="31" width="2119" height="4.5" fill="#000"/>
<rect x="243" y="35.5" width="2109" height="2.5" fill="#111"/>
<rect x="236.6" y="31" width="3.4" height="1320" fill="#888"/>
<rect x="240" y="31" width="3" height="1320" fill="#000"/>
<rect x="243" y="38" width="4" height="1306" fill="#8f8f8f"/>
<rect x="2352" y="31" width="3" height="1320" fill="#111"/>
<rect x="2355" y="31" width="4" height="1320" fill="#333"/>
<rect x="247" y="1340.5" width="2105" height="3.5" fill="#d4d4d4"/>
<rect x="240" y="1344" width="2119" height="3" fill="#000"/>
<rect x="240" y="1347" width="2119" height="3.7" fill="#404040"/>
</g>
<g shape-rendering="crispEdges">
<rect x="1294" y="38" width="4" height="1306" fill="#000" fill-opacity="0.71"/>
<rect x="1298" y="38" width="3" height="1306" fill="#000"/>
<rect x="243" y="688" width="2109" height="3" fill="#000"/>
<rect x="243" y="691" width="1051" height="3.5" fill="#000" fill-opacity="0.75"/>
<rect x="1301" y="691" width="1051" height="3.5" fill="#000" fill-opacity="0.75"/>
</g>
<g font-family="'Liberation Sans', Arial, sans-serif" font-size="61.5" fill="#000" stroke="#000" stroke-width="0.5">
<text x="557.7" y="1418.5" text-anchor="middle"><tspan dy="5.2">−</tspan><tspan dy="-5.2">4000</tspan></text>
<text x="928.2" y="1418.5" text-anchor="middle"><tspan dy="5.2">−</tspan><tspan dy="-5.2">2000</tspan></text>
<text x="1297.5" y="1418.5" text-anchor="middle">0</text>
<text x="1666.4" y="1418.5" text-anchor="middle">2000</text>
<text x="2034.3" y="1418.5" text-anchor="middle">4000</text>
<text x="221" y="92.5" text-anchor="end">2</text>
<text x="221" y="710.5" text-anchor="end">0</text>
<text x="221" y="1333.9" text-anchor="end">−<tspan dy="-5.2">2</tspan></text>
<text x="185.5" y="1023.4000000000001" text-anchor="end">−</text>
</g>
<defs><clipPath id="c1a" clipPathUnits="userSpaceOnUse"><rect x="185.80" y="339.70" width="45.00" height="55.41"/><rect x="206.26" y="394.11" width="5.44" height="7.59"/></clipPath><clipPath id="c1b" clipPathUnits="userSpaceOnUse"><rect x="185.80" y="958.20" width="45.00" height="55.41"/><rect x="206.26" y="1012.61" width="5.44" height="7.59"/></clipPath></defs>
<text x="190.80" y="399.7" clip-path="url(#c1a)" font-family="'Liberation Sans', Arial, sans-serif" font-size="61.5" fill="#000" stroke="#000" stroke-width="0.5">1</text>
<text x="190.80" y="1018.2" clip-path="url(#c1b)" font-family="'Liberation Sans', Arial, sans-serif" font-size="61.5" fill="#000" stroke="#000" stroke-width="0.5">1</text>
<text x="898.6" y="1560.8" font-family="'Liberation Sans', Arial, sans-serif" font-size="61.5" fill="#111" stroke="#111" stroke-width="0.5">Magnetic field strength [A/m]</text>
<text transform="translate(81.5,1051.7) rotate(-90)" x="0" y="0" font-family="'Liberation Sans', Arial, sans-serif" font-size="62" fill="#111" stroke="#111" stroke-width="0.5">Magnetic flux density [T]</text>
<rect x="1809.7" y="860" width="133.6" height="10" fill="#0000ff"/>
<circle cx="1824.8" cy="967.5" r="7.6" fill="#00a800"/>
<circle cx="1871" cy="967.5" r="7.6" fill="#00a800"/>
<circle cx="1917.4" cy="967.5" r="7.6" fill="#00a800"/>
<text transform="translate(1982.27,890.20) scale(0.6933,0.6536)" x="0" y="0" font-family="'Liberation Serif', 'Times New Roman', serif" font-size="100" font-style="italic" fill="#000">F</text>
<text transform="translate(2034.27,893.95) scale(0.7125,0.8150)" x="0" y="0" font-family="'Liberation Serif', 'Times New Roman', serif" font-size="100" fill="#000" stroke="#fff" stroke-width="1.6">(</text>
<text transform="translate(2061.97,890.07) scale(0.6819,0.6113)" x="0" y="0" font-family="'Liberation Serif', 'Times New Roman', serif" font-size="100" font-style="italic" fill="#000">a</text>
<text transform="translate(2096.47,891.76) scale(0.7607,0.5879)" x="0" y="0" font-family="'Liberation Serif', 'Times New Roman', serif" font-size="100" font-style="italic" fill="#000">,</text>
<text transform="translate(2120.27,890.20) scale(0.7212,0.6536)" x="0" y="0" font-family="'Liberation Serif', 'Times New Roman', serif" font-size="100" font-style="italic" fill="#000">H</text>
<text transform="translate(2181.77,893.95) scale(0.6308,0.8150)" x="0" y="0" font-family="'Liberation Serif', 'Times New Roman', serif" font-size="100" fill="#000" stroke="#fff" stroke-width="1.6">)</text>
<text x="1974.6" y="984.5" font-family="'Liberation Sans', Arial, sans-serif" font-size="61.5" fill="#111" stroke="#111" stroke-width="0.5">measured</text>
</svg></body></html>
